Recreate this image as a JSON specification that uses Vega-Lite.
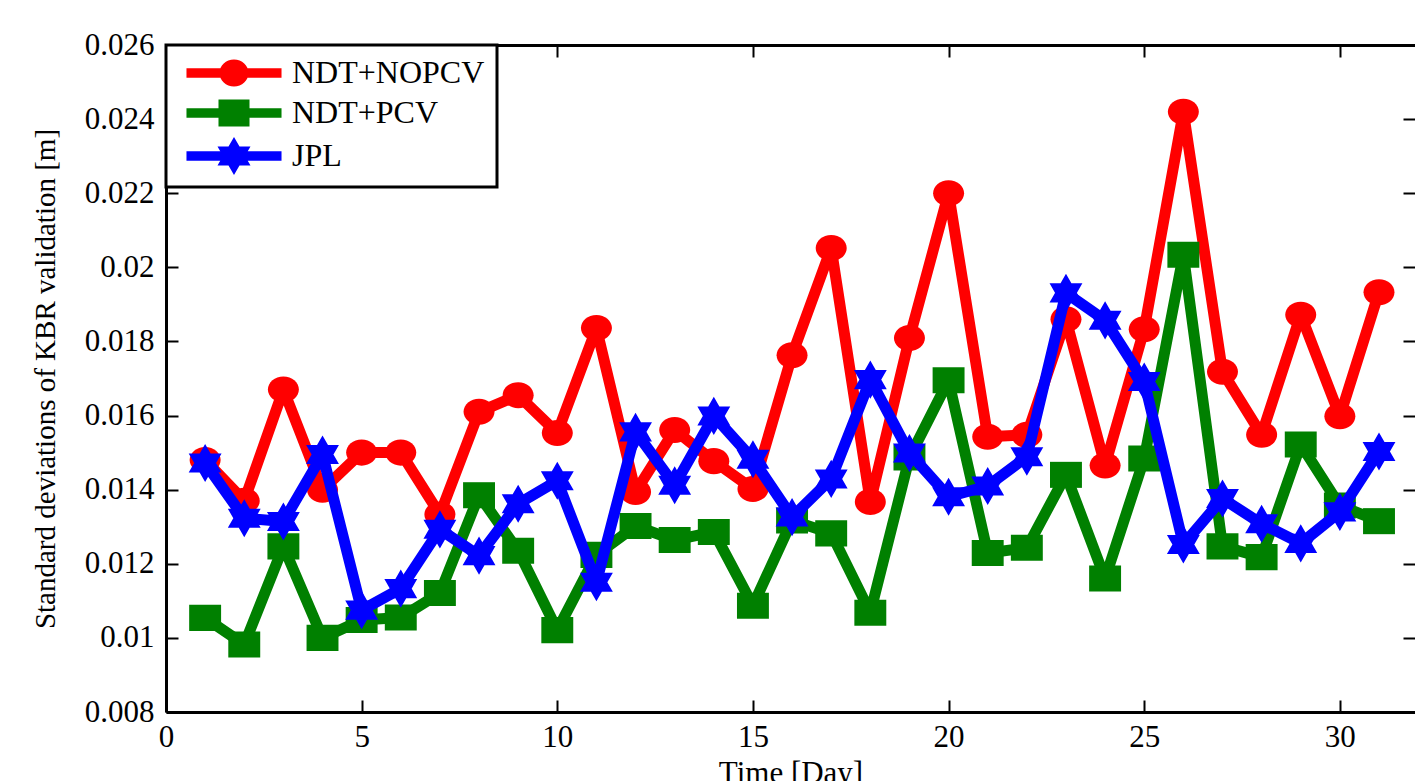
{
  "$schema": "https://vega.github.io/schema/vega-lite/v6.json",
  "width": 1249,
  "height": 667,
  "autosize": {"type": "none"},
  "padding": {"left": 166, "top": 45, "right": 0, "bottom": 69},
  "background": "white",
  "config": {
    "view": {"stroke": null},
    "font": "Liberation Serif",
    "legend": {"strokeWidth": 3},
    "axis": {
      "labelFont": "Liberation Serif", "labelFontSize": 31, "labelColor": "black",
      "tickColor": "black", "tickWidth": 2, "domainColor": "black", "domainWidth": 3,
      "grid": false, "titleFont": "Liberation Serif", "titleFontWeight": "normal",
      "titleColor": "black", "labelFlush": false, "labelOverlap": false
    }
  },
  "data": {"values": [
    {"day": 1, "series": "NDT+NOPCV", "value": 0.0148},
    {"day": 2, "series": "NDT+NOPCV", "value": 0.0137},
    {"day": 3, "series": "NDT+NOPCV", "value": 0.0167},
    {"day": 4, "series": "NDT+NOPCV", "value": 0.0140},
    {"day": 5, "series": "NDT+NOPCV", "value": 0.0150},
    {"day": 6, "series": "NDT+NOPCV", "value": 0.0150},
    {"day": 7, "series": "NDT+NOPCV", "value": 0.01333},
    {"day": 8, "series": "NDT+NOPCV", "value": 0.0161},
    {"day": 9, "series": "NDT+NOPCV", "value": 0.01655},
    {"day": 10, "series": "NDT+NOPCV", "value": 0.01553},
    {"day": 11, "series": "NDT+NOPCV", "value": 0.01836},
    {"day": 12, "series": "NDT+NOPCV", "value": 0.01394},
    {"day": 13, "series": "NDT+NOPCV", "value": 0.01561},
    {"day": 14, "series": "NDT+NOPCV", "value": 0.01477},
    {"day": 15, "series": "NDT+NOPCV", "value": 0.01402},
    {"day": 16, "series": "NDT+NOPCV", "value": 0.01763},
    {"day": 17, "series": "NDT+NOPCV", "value": 0.02052},
    {"day": 18, "series": "NDT+NOPCV", "value": 0.01367},
    {"day": 19, "series": "NDT+NOPCV", "value": 0.01809},
    {"day": 20, "series": "NDT+NOPCV", "value": 0.0220},
    {"day": 21, "series": "NDT+NOPCV", "value": 0.01543},
    {"day": 22, "series": "NDT+NOPCV", "value": 0.01548},
    {"day": 23, "series": "NDT+NOPCV", "value": 0.0186},
    {"day": 24, "series": "NDT+NOPCV", "value": 0.01465},
    {"day": 25, "series": "NDT+NOPCV", "value": 0.01833},
    {"day": 26, "series": "NDT+NOPCV", "value": 0.0242},
    {"day": 27, "series": "NDT+NOPCV", "value": 0.01718},
    {"day": 28, "series": "NDT+NOPCV", "value": 0.01548},
    {"day": 29, "series": "NDT+NOPCV", "value": 0.01872},
    {"day": 30, "series": "NDT+NOPCV", "value": 0.01598},
    {"day": 31, "series": "NDT+NOPCV", "value": 0.01933},
    {"day": 1, "series": "NDT+PCV", "value": 0.01054},
    {"day": 2, "series": "NDT+PCV", "value": 0.00982},
    {"day": 3, "series": "NDT+PCV", "value": 0.01247},
    {"day": 4, "series": "NDT+PCV", "value": 0.0100},
    {"day": 5, "series": "NDT+PCV", "value": 0.01048},
    {"day": 6, "series": "NDT+PCV", "value": 0.01055},
    {"day": 7, "series": "NDT+PCV", "value": 0.01121},
    {"day": 8, "series": "NDT+PCV", "value": 0.01385},
    {"day": 9, "series": "NDT+PCV", "value": 0.01235},
    {"day": 10, "series": "NDT+PCV", "value": 0.01021},
    {"day": 11, "series": "NDT+PCV", "value": 0.01224},
    {"day": 12, "series": "NDT+PCV", "value": 0.01302},
    {"day": 13, "series": "NDT+PCV", "value": 0.01264},
    {"day": 14, "series": "NDT+PCV", "value": 0.01286},
    {"day": 15, "series": "NDT+PCV", "value": 0.01087},
    {"day": 16, "series": "NDT+PCV", "value": 0.01317},
    {"day": 17, "series": "NDT+PCV", "value": 0.01282},
    {"day": 18, "series": "NDT+PCV", "value": 0.01068},
    {"day": 19, "series": "NDT+PCV", "value": 0.01487},
    {"day": 20, "series": "NDT+PCV", "value": 0.01695},
    {"day": 21, "series": "NDT+PCV", "value": 0.01229},
    {"day": 22, "series": "NDT+PCV", "value": 0.01243},
    {"day": 23, "series": "NDT+PCV", "value": 0.0144},
    {"day": 24, "series": "NDT+PCV", "value": 0.0116},
    {"day": 25, "series": "NDT+PCV", "value": 0.01484},
    {"day": 26, "series": "NDT+PCV", "value": 0.02034},
    {"day": 27, "series": "NDT+PCV", "value": 0.01247},
    {"day": 28, "series": "NDT+PCV", "value": 0.01218},
    {"day": 29, "series": "NDT+PCV", "value": 0.01522},
    {"day": 30, "series": "NDT+PCV", "value": 0.01357},
    {"day": 31, "series": "NDT+PCV", "value": 0.01315},
    {"day": 1, "series": "JPL", "value": 0.01472},
    {"day": 2, "series": "JPL", "value": 0.01323},
    {"day": 3, "series": "JPL", "value": 0.01314},
    {"day": 4, "series": "JPL", "value": 0.01495},
    {"day": 5, "series": "JPL", "value": 0.01075},
    {"day": 6, "series": "JPL", "value": 0.01133},
    {"day": 7, "series": "JPL", "value": 0.01293},
    {"day": 8, "series": "JPL", "value": 0.01222},
    {"day": 9, "series": "JPL", "value": 0.01362},
    {"day": 10, "series": "JPL", "value": 0.01424},
    {"day": 11, "series": "JPL", "value": 0.0115},
    {"day": 12, "series": "JPL", "value": 0.01556},
    {"day": 13, "series": "JPL", "value": 0.01412},
    {"day": 14, "series": "JPL", "value": 0.01599},
    {"day": 15, "series": "JPL", "value": 0.01482},
    {"day": 16, "series": "JPL", "value": 0.01326},
    {"day": 17, "series": "JPL", "value": 0.01429},
    {"day": 18, "series": "JPL", "value": 0.01697},
    {"day": 19, "series": "JPL", "value": 0.01499},
    {"day": 20, "series": "JPL", "value": 0.01381},
    {"day": 21, "series": "JPL", "value": 0.0141},
    {"day": 22, "series": "JPL", "value": 0.01489},
    {"day": 23, "series": "JPL", "value": 0.01931},
    {"day": 24, "series": "JPL", "value": 0.01857},
    {"day": 25, "series": "JPL", "value": 0.01692},
    {"day": 26, "series": "JPL", "value": 0.01252},
    {"day": 27, "series": "JPL", "value": 0.01376},
    {"day": 28, "series": "JPL", "value": 0.01308},
    {"day": 29, "series": "JPL", "value": 0.01255},
    {"day": 30, "series": "JPL", "value": 0.0134},
    {"day": 31, "series": "JPL", "value": 0.01503}
  ]},
  "resolve": {"axis": {"x": "independent", "y": "independent"}},
  "layer": [
    {
      "transform": [{"filter": "datum.series === 'NDT+NOPCV'"}],
      "mark": {"type": "line", "strokeWidth": 11, "strokeJoin": "round", "color": "#ff0000"},
      "encoding": {
        "x": {"field": "day", "type": "quantitative",
          "scale": {"domain": [0, 31.92], "nice": false, "zero": false},
          "axis": {"orient": "bottom", "values": [0, 5, 10, 15, 20, 25, 30], "tickSize": -12, "labelPadding": 22,
            "title": "Time [Day]", "titleFontSize": 31, "titlePadding": 6}},
        "y": {"field": "value", "type": "quantitative",
          "scale": {"domain": [0.008, 0.026], "nice": false, "zero": false},
          "axis": {"orient": "left", "values": [0.008, 0.01, 0.012, 0.014, 0.016, 0.018, 0.02, 0.022, 0.024, 0.026],
            "format": "~g", "tickSize": -12, "labelPadding": 24,
            "title": "Standard deviations of KBR validation [m]", "titleFontSize": 29, "titlePadding": 24}}
      }
    },
    {
      "transform": [{"filter": "datum.series === 'NDT+NOPCV'"}],
      "mark": {"type": "point", "filled": true, "opacity": 1, "strokeWidth": 0, "size": 961, "color": "#ff0000",
        "shape": "M-1,0A1,0.84 0 1,1 1,0A1,0.84 0 1,1 -1,0Z"},
      "encoding": {
        "x": {"field": "day", "type": "quantitative",
          "axis": {"orient": "top", "values": [0, 5, 10, 15, 20, 25, 30], "tickSize": -12, "labels": false, "title": null, "domain": true}},
        "y": {"field": "value", "type": "quantitative",
          "axis": {"orient": "right", "values": [0.008, 0.01, 0.012, 0.014, 0.016, 0.018, 0.02, 0.022, 0.024, 0.026],
            "tickSize": -12, "labels": false, "title": null, "domain": false}}
      }
    },
    {
      "transform": [{"filter": "datum.series === 'NDT+PCV'"}],
      "mark": {"type": "line", "strokeWidth": 11, "strokeJoin": "round", "color": "#008000"},
      "encoding": {
        "x": {"field": "day", "type": "quantitative", "axis": null},
        "y": {"field": "value", "type": "quantitative", "axis": null}
      }
    },
    {
      "transform": [{"filter": "datum.series === 'NDT+PCV'"}],
      "mark": {"type": "point", "filled": true, "opacity": 1, "strokeWidth": 0, "size": 961, "color": "#008000",
        "shape": "M-1.03,-0.84H1.03V0.84H-1.03Z"},
      "encoding": {
        "x": {"field": "day", "type": "quantitative", "axis": null},
        "y": {"field": "value", "type": "quantitative", "axis": null}
      }
    },
    {
      "transform": [{"filter": "datum.series === 'JPL'"}],
      "mark": {"type": "line", "strokeWidth": 11, "strokeJoin": "round", "color": "#0000ff"},
      "encoding": {
        "x": {"field": "day", "type": "quantitative", "axis": null},
        "y": {"field": "value", "type": "quantitative", "axis": null}
      }
    },
    {
      "transform": [{"filter": "datum.series === 'JPL'"}],
      "mark": {"type": "point", "filled": true, "opacity": 1, "strokeWidth": 0, "size": 961, "color": "#0000ff",
        "shape": "M0,-1.23L1.06,0.615L-1.06,0.615ZM0,1.23L-1.06,-0.615L1.06,-0.615Z"},
      "encoding": {
        "x": {"field": "day", "type": "quantitative", "axis": null},
        "y": {"field": "value", "type": "quantitative", "axis": null}
      }
    },
    {
      "transform": [{"filter": "false"}],
      "mark": {"type": "point", "filled": true, "strokeWidth": 0},
      "encoding": {
        "x": {"field": "day", "type": "quantitative", "axis": null},
        "y": {"field": "value", "type": "quantitative", "axis": null},
        "color": {"field": "series", "type": "nominal",
          "scale": {"domain": ["NDT+NOPCV", "NDT+PCV", "JPL"], "range": ["#ff0000", "#008000", "#0000ff"]},
          "legend": {
            "orient": "none", "legendX": 0, "legendY": 0, "title": null,
            "padding": 12, "strokeColor": "black", "fillColor": "white",
            "symbolSize": 1024, "symbolStrokeWidth": 0, "symbolOpacity": 1, "symbolOffset": 40,
            "labelFont": "Liberation Serif", "labelFontSize": 32, "labelColor": "black", "labelLimit": 0,
            "labelOffset": 42, "rowPadding": 8,
            "labelExpr": "datum.label + '  '"
          }},
        "shape": {"field": "series", "type": "nominal",
          "scale": {"domain": ["NDT+NOPCV", "NDT+PCV", "JPL"], "range": [
            "M-2.97,-0.297H2.97V0.297H-2.97ZM-0.906,0A0.906,0.844 0 1,1 0.906,0A0.906,0.844 0 1,1 -0.906,0Z",
            "M-2.97,-0.297H2.97V0.297H-2.97ZM-0.969,-0.844H0.969V0.844H-0.969Z",
            "M-2.97,-0.297H2.97V0.297H-2.97ZM0,-1.1875L1.031,0.594L-1.031,0.594ZM0,1.1875L-1.031,-0.594L1.031,-0.594Z"
          ]},
          "legend": {
            "orient": "none", "legendX": 0, "legendY": 0, "title": null,
            "padding": 12, "strokeColor": "black", "fillColor": "white",
            "symbolSize": 1024, "symbolStrokeWidth": 0, "symbolOpacity": 1, "symbolOffset": 40,
            "labelFont": "Liberation Serif", "labelFontSize": 32, "labelColor": "black", "labelLimit": 0,
            "labelOffset": 42, "rowPadding": 8,
            "labelExpr": "datum.label + '  '"
          }}
      }
    }
  ]
}
